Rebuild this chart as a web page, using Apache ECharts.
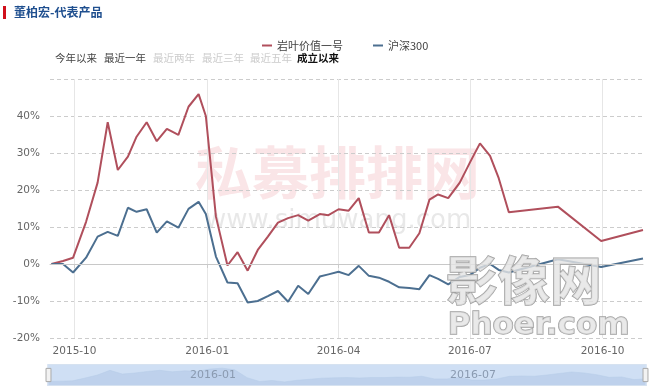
<!DOCTYPE html>
<html><head><meta charset="utf-8">
<script src="https://cdn.jsdelivr.net/npm/echarts@6/dist/echarts.min.js"></script>
<style>html,body{margin:0;padding:0;background:#fff}#c{width:653px;height:389px}</style>
</head><body><div id="c"></div>
<script>
const seriesNames = ['岩叶价值一号', '沪深300'];
const dates = ['2015-09-15','2015-09-23','2015-09-30','2015-10-09','2015-10-17','2015-10-24','2015-10-31','2015-11-07','2015-11-13','2015-11-20','2015-11-27','2015-12-04','2015-12-12','2015-12-19','2015-12-26','2015-12-31','2016-01-07','2016-01-15','2016-01-22','2016-01-29','2016-02-05','2016-02-12','2016-02-19','2016-02-26','2016-03-04','2016-03-11','2016-03-19','2016-03-25','2016-04-01','2016-04-08','2016-04-15','2016-04-22','2016-04-29','2016-05-06','2016-05-13','2016-05-20','2016-05-27','2016-06-03','2016-06-09','2016-06-16','2016-06-24','2016-07-01','2016-07-08','2016-07-15','2016-07-21','2016-07-28','2016-08-31','2016-09-30','2016-10-29'];
const fundValues = [0,0.8,1.7,11.4,22,38.3,25.4,29,34.4,38.3,33.2,36.5,34.9,42.5,45.9,40,12.8,-0.4,3.2,-1.8,3.8,7.4,11.2,12.4,13.2,11.7,13.5,13.2,14.8,14.4,17.8,8.5,8.5,13.2,4.4,4.4,8.3,17.4,18.8,17.8,22,27.4,32.6,29.2,23.2,14,15.5,6.2,9.2];
const indexValues = [0,0,-2.3,1.7,7.4,8.7,7.6,15.2,14.1,14.8,8.5,11.5,9.8,14.9,16.8,13.5,2,-5,-5.2,-10.4,-10,-8.7,-7.3,-10.2,-5.9,-8.1,-3.4,-2.8,-2.1,-3,-0.5,-3.2,-3.7,-4.8,-6.3,-6.5,-6.8,-3,-4,-5.5,-3.5,-3,-1,0,-1.6,-2.3,1.3,-0.8,1.5];
const xTickDates = ['2015-10-01','2016-01-01','2016-04-01','2016-07-01','2016-10-01'];
const xRange = ['2015-09-14','2016-10-29'];
const yRange = [-20, 50];
const buttons = ['今年以来','最近一年','最近两年','最近三年','最近五年','成立以来'];
const sliderLabels = ['2016-01','2016-07'];

const ts = s => new Date(s + 'T00:00:00').getTime();
const pad = n => (n < 10 ? '0' : '') + n;
const chart = echarts.init(document.getElementById('c'));

const btnX = [55, 104, 153, 202, 250, 297];
const btnColor = ['#444','#444','#ccc','#ccc','#ccc','#111'];
const graphics = [
  {type:'rect', left:3, top:6, shape:{width:3, height:13}, style:{fill:'#d0101b'}},
  {type:'text', left:14, top:6, style:{text:'董柏宏-代表产品', fill:'#1f4f8f', font:'bold 12px "Noto Sans CJK SC"'}},
  {type:'text', left:195, top:144, z:-10, style:{text:'私募排排网', fill:'rgba(236,150,160,0.25)', font:'bold 57px "Noto Sans CJK SC"'}},
  {type:'text', left:205, top:208, z:-10, style:{text:'www.simuwang.com', fill:'rgba(190,190,190,0.35)', font:'26px "DejaVu Sans"'}},
  {type:'text', left:445, top:253, z:100, style:{text:'影像网', fill:'rgba(228,228,228,0.8)', stroke:'#a0a0a0', lineWidth:1.5, font:'bold 52px "Noto Sans CJK SC"'}},
  {type:'text', left:447, top:310, z:100, style:{text:'Phoer.com', fill:'rgba(228,228,228,0.8)', stroke:'#a0a0a0', lineWidth:1.5, font:'bold 31px "DejaVu Sans"'}},
];
buttons.forEach((b, i) => graphics.push({type:'text', left:btnX[i], top:53, style:{text:b, fill:btnColor[i], font:(i===5?'bold ':'') + '10.5px "Noto Sans CJK SC"'}}));
const slX = [190, 450];
sliderLabels.forEach((s, i) => graphics.push({type:'text', left:slX[i], top:370, z:100, style:{text:s, fill:'#8a9ab0', font:'11px "DejaVu Sans"'}}));

chart.setOption({
  animation: false,
  backgroundColor: '#fff',
  graphic: graphics,
  legend: {
    data: seriesNames, left: 257, top: 35, icon: 'rect', itemWidth: 10, itemHeight: 2, itemGap: 30,
    textStyle: {fontSize: 11, color: '#444', fontFamily: 'Noto Sans CJK SC'}
  },
  grid: {left: 50, right: 10, top: 79, bottom: 51},
  xAxis: {
    type: 'value', min: ts(xRange[0]), max: ts(xRange[1]),
    axisLine: {lineStyle: {color: '#ccc'}},
    axisTick: {show: true, length: 4, lineStyle: {color: '#ccc'}, customValues: xTickDates.map(ts)},
    axisLabel: {
      customValues: xTickDates.map(ts), color: '#666', fontSize: 10.5, fontFamily: 'DejaVu Sans', margin: 8,
      formatter: v => { const d = new Date(v); return d.getFullYear() + '-' + pad(d.getMonth() + 1); }
    },
    splitLine: {show: true, lineStyle: {color: '#e6e6e6', type: 'solid'}}
  },
  yAxis: {
    type: 'value', min: yRange[0], max: yRange[1], interval: 10,
    axisLine: {show: false}, axisTick: {show: false},
    axisLabel: {color: '#666', fontSize: 10.5, fontFamily: 'DejaVu Sans', margin: 10,
      formatter: v => v === yRange[1] ? '' : v + '%'},
    splitLine: {lineStyle: {color: '#ccc', type: [4, 3]}}
  },
  dataZoom: [{
    type: 'slider', xAxisIndex: 0, start: 0, end: 100, left: 45, right: 9, bottom: 3, height: 22,
    showDetail: false, brushSelect: false, moveHandleSize: 0,
    borderColor: '#d6e2f0', backgroundColor: 'rgba(200,220,245,0.4)',
    fillerColor: 'rgba(190,212,240,0.6)',
    handleIcon: 'path://M0,0 h6 v16 h-6 z', handleSize: '60%',
    handleStyle: {color: '#f2f2f2', borderColor: '#aaa'},
    dataBackground: {lineStyle: {color: '#a9bedb', width: 0.5}, areaStyle: {color: '#a9bedb', opacity: 0.7}},
    selectedDataBackground: {lineStyle: {color: '#a9bedb', width: 0.5}, areaStyle: {color: '#a9bedb', opacity: 0.7}}
  }],
  series: [
    {name: seriesNames[0], type: 'line', data: dates.map((d, i) => [ts(d), fundValues[i]]),
     showSymbol: false, symbol: 'none', lineStyle: {color: '#b04f5c', width: 2}, itemStyle: {color: '#b04f5c'},
     markLine: {silent: true, symbol: 'none', label: {show: false}, lineStyle: {color: '#c8c8c8', type: 'solid', width: 1}, data: [{yAxis: 0}]}},
    {name: seriesNames[1], type: 'line', data: dates.map((d, i) => [ts(d), indexValues[i]]),
     showSymbol: false, symbol: 'none', lineStyle: {color: '#4c6f90', width: 2}, itemStyle: {color: '#4c6f90'}}
  ]
});
</script></body></html>
